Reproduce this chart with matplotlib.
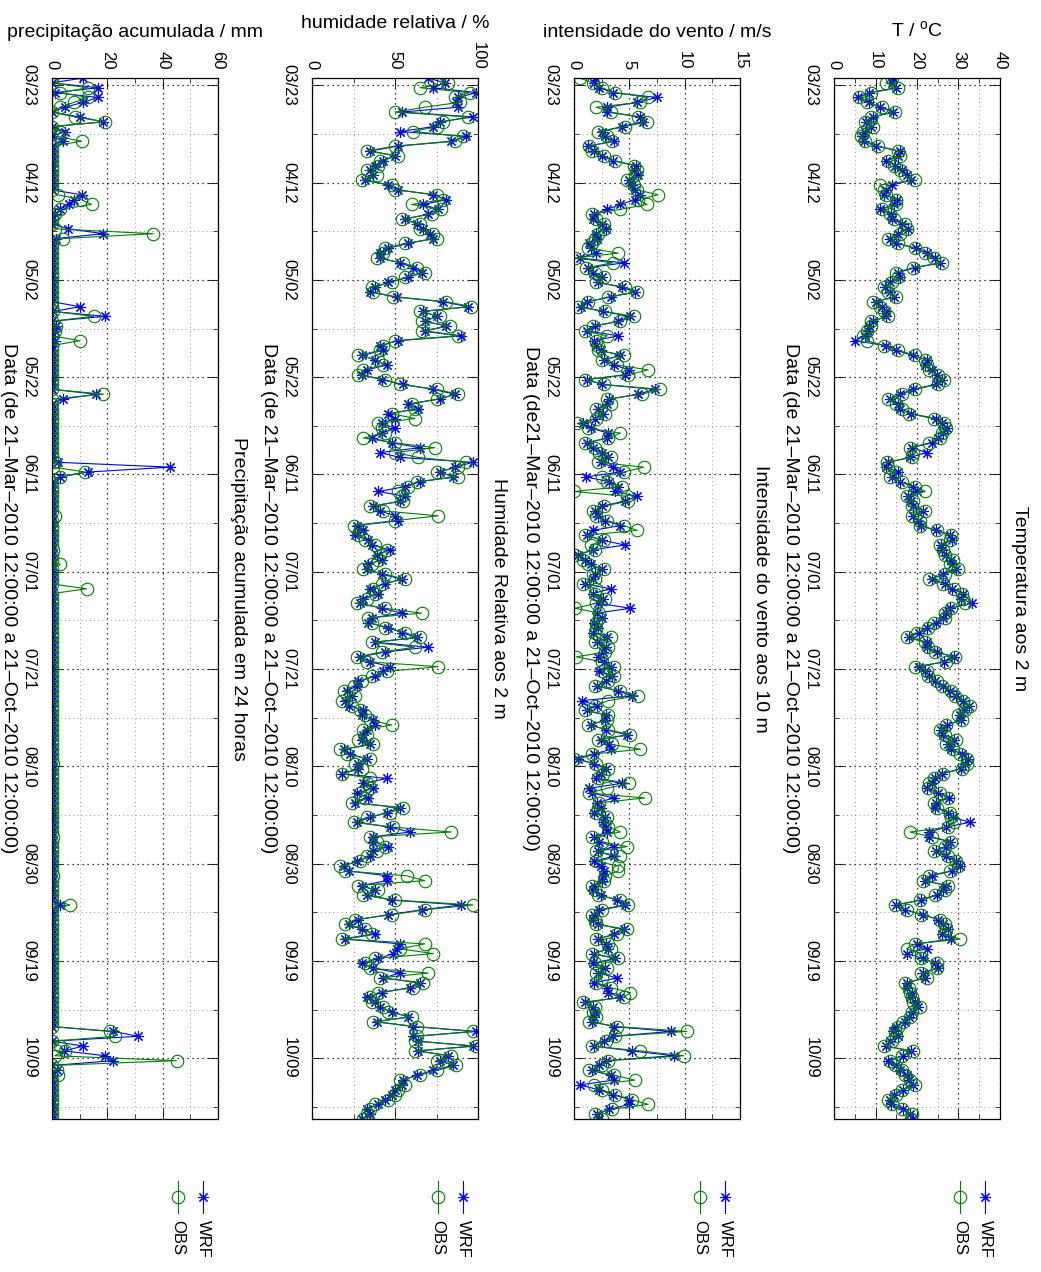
import numpy as np
import pandas as pd
import matplotlib
matplotlib.use('Agg')
import matplotlib.pyplot as plt
from matplotlib.lines import Line2D

plt.rcParams['font.family'] = ['Liberation Sans', 'DejaVu Sans']

# ---------------- data ----------------
start_date = '2010-03-21 12:00'
n_days = 215
tick_start = '2010-03-23'
tick_labels = ['03/23', '04/12', '05/02', '05/22', '06/11', '07/01',
               '07/21', '08/10', '08/30', '09/19', '10/09']
series_names = ['WRF', 'OBS']

temp_obs = [13.9, 12.5, 15.5, 9.0, 6.0, 8.0, 11.5, 14.7, 9.0, 7.5,
            9.5, 7.0, 6.5, 7.5, 10.5, 15.5, 16.0, 13.0, 14.5, 16.0,
            17.0, 19.5, 11.0, 12.0, 12.5, 15.0, 15.0, 11.5, 13.5, 14.5,
            17.0, 17.5, 16.0, 13.0, 15.5, 19.5, 22.0, 24.0, 26.0, 19.0,
            15.0, 15.5, 14.0, 12.0, 13.0, 15.0, 9.5, 11.0, 12.0, 13.0,
            9.0, 9.0, 8.0, 7.0, 8.0, 12.0, 15.5, 19.5, 22.0, 22.5,
            23.0, 25.0, 26.5, 25.0, 19.5, 16.5, 13.0, 15.0, 16.5, 18.0,
            24.0, 26.5, 27.0, 26.0, 25.5, 23.0, 18.3, 19.0, 18.7, 12.7,
            13.0, 15.0, 13.5, 16.3, 19.5, 22.0, 17.5, 19.0, 18.7, 22.0,
            18.7, 20.7, 20.7, 24.7, 28.3, 28.0, 25.5, 26.3, 26.7, 28.7,
            28.0, 30.0, 26.7, 23.0, 26.3, 29.0, 30.8, 31.0, 31.6, 28.3,
            26.7, 26.7, 24.0, 22.7, 20.0, 17.5, 22.0, 22.7, 24.3, 29.2,
            27.0, 19.5, 22.3, 22.7, 24.7, 26.0, 28.3, 29.2, 31.2, 32.8,
            31.6, 30.0, 30.8, 27.0, 25.5, 26.7, 29.5, 27.0, 28.7, 30.4,
            32.0, 32.0, 30.8, 26.3, 24.0, 23.0, 22.7, 25.5, 27.5, 24.0,
            24.7, 28.0, 28.3, 29.0, 27.5, 18.3, 23.5, 28.3, 26.7, 24.0,
            27.5, 29.5, 30.0, 28.0, 23.0, 21.5, 27.5, 26.7, 24.3, 20.7,
            14.7, 17.5, 21.0, 25.5, 26.7, 27.0, 26.5, 30.4, 19.5, 17.5,
            21.0, 21.0, 24.7, 24.7, 21.0, 22.3, 17.0, 18.0, 18.3, 18.7,
            19.0, 20.7, 18.7, 18.3, 16.7, 15.5, 14.7, 15.0, 14.0, 12.0,
            19.0, 16.3, 13.5, 14.7, 16.3, 17.0, 18.3, 19.5, 16.3, 15.0,
            13.0, 14.0, 16.3, 18.7, 18.5]
temp_wrf = [14.2, 14.0, 15.0, 8.5, 5.8, 8.5, 11.0, 14.3, 9.5, 7.8,
            9.0, 7.5, 6.8, 7.2, 10.2, 15.8, 15.5, 12.5, 14.8, 16.3,
            17.5, 18.5, 14.0, 12.5, 12.0, 15.3, 14.5, 11.0, 13.8, 14.0,
            16.5, 17.8, 15.5, 13.5, 15.0, 19.8, 22.5, 24.3, 25.5, 19.5,
            15.5, 15.8, 13.5, 12.3, 13.5, 14.5, 10.0, 11.5, 12.5, 12.5,
            9.5, 8.5, 8.3, 7.5, 5.0, 12.5, 15.0, 19.0, 22.5, 22.0,
            23.5, 24.7, 26.0, 24.5, 19.0, 16.0, 13.5, 15.5, 16.0, 18.5,
            24.5, 26.0, 27.3, 26.3, 25.0, 23.5, 18.8, 22.3, 18.3, 13.0,
            12.5, 15.5, 14.0, 16.0, 19.0, 20.0, 17.8, 18.5, 19.0, 21.5,
            19.0, 20.3, 21.0, 24.5, 28.0, 28.5, 25.8, 26.0, 27.0, 28.3,
            28.5, 29.5, 26.3, 23.5, 26.7, 28.5, 31.0, 30.5, 33.2, 28.0,
            27.0, 26.3, 24.5, 22.3, 20.5, 18.0, 22.5, 22.3, 24.7, 28.8,
            26.5, 20.5, 22.0, 23.0, 24.3, 26.3, 28.0, 29.5, 31.0, 32.5,
            31.3, 30.3, 30.5, 27.3, 25.8, 26.3, 29.0, 27.5, 28.3, 30.8,
            32.3, 31.6, 30.5, 26.0, 24.3, 23.5, 22.3, 25.0, 27.8, 24.5,
            24.3, 27.5, 28.7, 32.8, 27.0, 23.0, 23.0, 28.0, 27.0, 24.5,
            27.0, 29.3, 30.3, 28.5, 23.5, 22.0, 27.0, 26.3, 24.7, 21.0,
            15.0, 17.0, 21.5, 25.0, 26.3, 27.5, 26.0, 28.3, 20.0, 22.3,
            17.5, 21.5, 24.3, 25.0, 21.5, 22.0, 17.5, 17.7, 18.7, 18.3,
            19.5, 20.3, 19.0, 18.0, 17.0, 15.0, 14.3, 15.5, 13.5, 12.5,
            18.5, 16.7, 13.0, 15.0, 16.0, 17.5, 18.0, 19.0, 16.7, 14.5,
            13.5, 13.7, 16.7, 18.3, 19.0]

wind_obs = [0.5, 1.7, 2.5, 3.7, 6.7, 6.0, 2.0, 3.3, 5.8, 6.6,
            4.6, 2.2, 3.0, 3.4, 1.4, 1.6, 2.7, 3.7, 5.4, 5.7,
            5.5, 4.8, 5.4, 5.7, 7.6, 5.8, 6.6, 4.2, 1.6, 2.0,
            2.7, 2.7, 2.2, 1.9, 1.6, 1.3, 4.0, 0.1, 3.5, 1.1,
            1.9, 2.7, 2.0, 4.6, 5.7, 3.1, 1.3, 0.4, 2.8, 5.4,
            4.2, 1.7, 1.0, 3.0, 2.0, 2.2, 2.2, 4.5, 2.5, 3.9,
            6.7, 4.9, 1.0, 2.7, 7.8, 6.1, 3.0, 3.3, 2.0, 2.8,
            2.0, 0.3, 1.3, 4.2, 3.1, 1.0, 1.9, 2.3, 3.3, 2.2,
            6.3, 4.5, 2.5, 3.0, 4.3, 0.0, 4.8, 4.9, 2.7, 1.7,
            2.0, 3.0, 4.5, 5.7, 1.0, 2.7, 1.5, 1.9, 0.1, 0.8,
            1.3, 2.7, 1.7, 1.9, 0.8, 2.0, 1.9, 2.8, 2.0, 0.1,
            2.3, 2.3, 2.0, 2.0, 1.9, 3.3, 1.9, 3.1, 2.8, 0.2,
            2.5, 3.6, 2.5, 3.6, 3.1, 1.9, 4.2, 5.8, 3.1, 1.9,
            1.0, 3.1, 3.0, 1.3, 3.1, 5.1, 2.2, 3.4, 6.0, 1.6,
            0.0, 2.0, 3.1, 2.6, 2.2, 5.0, 3.0, 1.4, 6.4, 2.3,
            2.2, 2.0, 3.0, 2.8, 3.1, 4.2, 1.6, 2.5, 4.8, 2.0,
            4.2, 2.0, 4.0, 4.0, 2.8, 2.7, 1.6, 1.9, 2.2, 4.2,
            4.9, 2.5, 1.6, 1.9, 2.0, 4.8, 3.9, 2.0, 3.1, 3.3,
            1.6, 4.0, 1.9, 3.0, 2.0, 2.5, 2.0, 3.3, 5.1, 4.5,
            0.8, 1.9, 1.7, 2.0, 1.4, 3.9, 10.2, 3.7, 2.9, 1.6,
            6.0, 9.9, 3.1, 2.5, 1.4, 3.6, 5.5, 1.8, 2.5, 3.7,
            5.2, 6.7, 3.4, 1.9, 2.5]
wind_wrf = [1.9, 1.8, 2.3, 3.5, 7.5, 5.7, 3.0, 3.0, 6.0, 6.2,
            4.3, 2.5, 2.8, 3.6, 1.3, 1.8, 2.5, 3.5, 5.6, 5.4,
            5.8, 5.0, 5.2, 5.5, 6.0, 5.5, 4.2, 3.0, 1.8, 1.7,
            2.5, 2.9, 2.0, 2.1, 1.4, 1.5, 2.0, 0.5, 4.5, 1.3,
            1.7, 2.5, 2.2, 4.3, 5.5, 3.3, 1.2, 0.6, 2.6, 5.1,
            4.0, 1.9, 1.2, 4.0, 1.8, 2.0, 2.4, 4.2, 2.7, 3.6,
            5.0, 4.6, 1.2, 2.5, 7.3, 5.8, 3.2, 3.0, 2.2, 2.6,
            1.9, 0.8, 1.5, 3.1, 3.0, 1.2, 1.7, 2.5, 3.1, 2.4,
            3.5, 4.2, 1.1, 3.2, 4.0, 3.7, 5.7, 4.6, 2.5, 1.9,
            2.2, 2.8, 4.2, 1.7, 1.2, 2.5, 4.6, 1.7, 0.4, 1.0,
            1.5, 2.5, 1.9, 1.7, 1.0, 3.3, 1.7, 2.6, 2.2, 5.1,
            2.1, 2.5, 1.8, 2.2, 1.7, 3.0, 2.1, 2.9, 2.6, 2.2,
            2.7, 3.3, 2.3, 3.4, 2.9, 2.1, 4.0, 5.2, 0.7, 2.1,
            1.2, 2.9, 2.8, 1.5, 2.9, 4.8, 2.4, 3.2, 3.3, 1.8,
            0.4, 1.8, 2.9, 2.4, 2.0, 4.3, 1.4, 1.6, 3.6, 2.1,
            2.4, 1.8, 2.8, 2.6, 2.9, 3.0, 1.8, 2.3, 3.6, 2.2,
            3.6, 1.8, 2.4, 2.7, 2.6, 2.5, 1.8, 1.7, 2.4, 3.9,
            4.6, 2.3, 1.8, 1.7, 2.2, 4.5, 3.6, 2.2, 2.9, 3.1,
            1.8, 3.7, 1.7, 2.8, 2.2, 3.9, 1.8, 3.0, 3.1, 4.2,
            1.0, 1.7, 1.9, 1.8, 1.6, 3.6, 8.8, 3.5, 2.7, 1.8,
            5.2, 9.0, 2.9, 2.3, 1.6, 3.3, 3.6, 0.5, 2.3, 3.5,
            5.0, 5.0, 3.2, 2.1, 2.3]

hum_obs = [76, 82, 65, 95, 86, 89, 68, 50, 94, 79,
           75, 61, 91, 86, 50, 33, 52, 41, 40, 33,
           39, 30, 48, 50, 75, 79, 60, 78, 72, 54,
           65, 65, 73, 75, 56, 44, 43, 39, 55, 63,
           68, 56, 48, 36, 37, 49, 81, 96, 65, 77,
           66, 83, 66, 88, 50, 43, 41, 28, 40, 43,
           31, 28, 44, 53, 75, 88, 75, 60, 62, 48,
           62, 40, 42, 44, 31, 50, 74, 50, 64, 93,
           88, 75, 88, 63, 58, 52, 54, 55, 35, 43,
           76, 50, 25, 29, 28, 32, 38, 45, 41, 40,
           36, 31, 44, 56, 42, 37, 38, 33, 27, 44,
           66, 34, 36, 44, 56, 65, 36, 62, 42, 27,
           33, 76, 45, 36, 30, 25, 19, 26, 18, 24,
           29, 32, 35, 48, 31, 33, 28, 37, 17, 21,
           35, 26, 30, 18, 35, 33, 35, 29, 32, 24,
           55, 47, 33, 25, 49, 84, 35, 39, 44, 39,
           33, 29, 17, 20, 57, 68, 28, 40, 31, 50,
           97, 68, 48, 26, 20, 32, 36, 18, 68, 53,
           73, 38, 32, 35, 70, 41, 67, 61, 40, 35,
           36, 43, 46, 60, 37, 63, 97, 63, 62, 99,
           62, 84, 75, 87, 75, 65, 53, 56, 52, 50,
           46, 38, 35, 33, 31]
hum_wrf = [70, 80, 73, 99, 88, 87, 88, 54, 97, 77,
           73, 53, 93, 84, 52, 35, 50, 43, 38, 35,
           37, 32, 46, 52, 73, 81, 67, 76, 70, 56,
           63, 67, 71, 73, 58, 46, 41, 41, 53, 61,
           66, 58, 46, 38, 35, 51, 79, 94, 67, 75,
           68, 81, 68, 90, 52, 41, 43, 30, 38, 45,
           33, 30, 42, 55, 73, 86, 77, 58, 64, 46,
           50, 42, 50, 42, 36, 48, 65, 41, 53, 97,
           86, 77, 85, 65, 56, 40, 56, 53, 37, 41,
           50, 52, 27, 31, 26, 34, 36, 47, 39, 42,
           34, 33, 42, 54, 44, 35, 40, 31, 29, 42,
           54, 36, 34, 46, 54, 63, 38, 70, 44, 29,
           35, 47, 43, 38, 28, 27, 21, 24, 20, 22,
           31, 30, 37, 38, 33, 31, 30, 35, 19, 23,
           33, 28, 28, 18, 45, 31, 37, 27, 34, 26,
           53, 45, 35, 27, 47, 59, 37, 37, 46, 37,
           35, 27, 19, 22, 45, 45, 30, 38, 33, 48,
           90, 66, 46, 28, 22, 30, 38, 20, 53, 51,
           49, 40, 30, 37, 53, 43, 65, 59, 42, 33,
           38, 41, 48, 58, 39, 61, 99, 61, 64, 97,
           64, 82, 77, 85, 73, 63, 55, 54, 50, 48,
           44, 40, 33, 35, 30]

prec_obs = [0, 0, 13, 3, 13, 8, 3, 0, 8.3, 19,
            0, 3, 2, 10.7, 0, 0, 0, 0, 0, 0,
            0, 0, 0, 0, 2, 10.5, 14.3, 3, 1, 0,
            0, 1, 36.6, 4, 0, 0, 0, 0, 0, 0,
            0, 0, 0, 0, 0, 0, 0, 0, 0.5, 15,
            0, 1.5, 1, 0, 10.1, 0, 0, 0, 0, 0,
            0, 0, 0, 0, 0, 18.6, 0, 0, 0, 0,
            0, 0, 0, 0, 0, 0, 0, 0, 0, 1,
            0.5, 12, 2.9, 0, 0, 0, 0, 0, 0, 0,
            1, 0, 0, 0, 0, 0, 0, 0.5, 0, 0,
            3, 0, 0, 0, 0, 12.5, 0, 0, 0, 0,
            0, 0, 0, 0, 0, 0, 0, 0, 0, 0,
            0, 0, 0, 0, 0, 0, 0, 0, 0, 0,
            0, 0, 0, 0, 0, 0, 0, 0, 0, 0,
            0, 0.5, 0, 0, 0, 0, 0, 0, 0, 0,
            0, 0, 0, 0, 0, 0, 0.5, 0, 0, 0,
            0, 0, 0, 0, 0.5, 0, 0, 0, 0, 0,
            6.5, 0, 0, 0, 0, 0, 0, 0, 0, 0,
            0, 0, 0, 0, 0, 0, 0, 0, 0, 0,
            0, 0, 0, 0, 0, 0, 21, 22.8, 0, 3,
            4.7, 1, 45, 0, 1.7, 2.3, 0, 0, 0, 0,
            0, 0, 0, 0, 0]
prec_wrf = [11.3, 0, 16.7, 1, 16.5, 11.3, 4.7, 0, 10, 18.5,
            0, 4.7, 0, 4, 0, 0, 0, 0, 0, 0,
            0, 0, 0, 0, 10.7, 8, 6, 3, 1, 0,
            0, 5.9, 18.6, 1.5, 0, 0, 0, 0, 0, 0,
            0, 0, 0, 0, 0, 0, 0, 10.1, 0.5, 19.2,
            0, 1.5, 1, 0, 1, 0, 0, 0, 0, 0,
            0, 0, 0, 0, 0, 16, 4, 0, 0, 0,
            0, 0, 0, 0, 0, 0, 0, 0, 0, 2,
            42.7, 13, 2.9, 0, 0, 0, 0, 0, 0, 0,
            0, 0, 0, 0, 0, 0, 0, 0, 0, 0,
            0, 0, 0, 0, 0, 0, 0, 0, 0, 0,
            0, 0, 0, 0, 0, 0, 0, 0, 0, 0,
            0, 0, 0, 0, 0, 0, 0, 0, 0, 0,
            0, 0, 0, 0, 0, 0, 0, 0, 0, 0,
            0, 0, 0, 0, 0, 0, 0, 0, 0, 0,
            0, 0, 0, 0, 0, 0, 0, 0, 0, 0,
            0, 0, 0, 0, 0, 0, 0, 0, 0, 0,
            2.9, 0, 0, 0, 0, 0, 0, 0, 0, 0,
            0, 0, 0, 0, 0, 0, 0, 0, 0, 0,
            0, 0, 0, 0, 0, 0, 22.2, 31.2, 0, 11.3,
            4.5, 19.2, 22.2, 0, 1.7, 0.5, 0, 0, 0, 0,
            0, 0, 0, 0, 0]

value_labels = [r'T / $^{\mathregular{o}}$C', 'intensidade do vento / m/s',
                'humidade relativa / %', 'precipitação acumulada / mm']
titles = ['Temperatura aos 2 m', 'Intensidade do vento aos 10 m',
          'Humidade Relativa aos 2 m', 'Precipitação acumulada em 24 horas']
date_labels = ['Data (de 21–Mar–2010 12:00:00 a 21–Oct–2010 12:00:00)',
               'Data (de21–Mar–2010 12:00:00 a 21–Oct–2010 12:00:00)',
               'Data (de 21–Mar–2010 12:00:00 a 21–Oct–2010 12:00:00)',
               'Data (de 21–Mar–2010 12:00:00 a 21–Oct–2010 12:00:00)']
value_max = [40, 15, 100, 60]
value_major = [10, 5, 50, 20]
value_minor = [5, 2.5, 25, 10]

# ---------------- figure ----------------
W, H = 1041, 1272
fig = plt.figure(figsize=(W / 100, H / 100), dpi=100)

dates = pd.date_range(start_date, periods=n_days, freq='D')
tick_dates = pd.date_range(tick_start, periods=len(tick_labels), freq='20D')
minor_dates = tick_dates + pd.Timedelta(days=10)
minor_dates = minor_dates[minor_dates <= dates[-1]]

BLUE = (0, 0, 1)
GREEN = (0, 0.5, 0)
ASTER = (8, 2, 0)
FS_TICK = 12
FS_LAB = 14

def px_rect(x0, x1, y0, y1):
    return [x0 / W, 1 - y1 / H, (x1 - x0) / W, (y1 - y0) / H]

panel_left = [834, 574, 312, 52]
panel_w = 166
top_px, bot_px = 78, 1119

series = [(temp_wrf, temp_obs), (wind_wrf, wind_obs),
          (hum_wrf, hum_obs), (prec_wrf, prec_obs)]

for i in range(4):
    x0 = panel_left[i]
    ax = fig.add_axes(px_rect(x0, x0 + panel_w, top_px, bot_px))
    wrf, obs = series[i]
    ax.plot(wrf, dates, color=BLUE, lw=0.8, marker=ASTER, ms=8, mew=0.8)
    ax.plot(obs, dates, color=GREEN, lw=0.8, marker='o', ms=9,
            mfc='none', mew=0.8)
    ax.set_xlim(0, value_max[i])
    ax.set_ylim(dates[-1], dates[0])

    ax.set_xticks(np.arange(0, value_max[i] + 0.01, value_major[i]))
    ax.set_xticks(np.arange(value_minor[i], value_max[i], value_major[i]),
                  minor=True)
    ax.set_yticks(tick_dates)
    ax.set_yticklabels(tick_labels, rotation=-90, va='center',
                       fontsize=FS_TICK)
    ax.set_yticks(minor_dates, minor=True)

    ax.xaxis.tick_top()
    ax.xaxis.set_label_position('top')
    ax.tick_params(axis='x', which='both', top=True, bottom=True,
                   direction='in', labelsize=FS_TICK, labelrotation=-90,
                   pad=6)
    ax.tick_params(axis='y', which='both', left=True, right=True,
                   direction='in', pad=11)
    ax.tick_params(which='major', length=7, width=0.6)
    ax.tick_params(which='minor', length=3.5, width=0.5)
    for lab in ax.get_xticklabels():
        lab.set_va('bottom')
        lab.set_ha('center')

    ax.grid(True, which='major', linestyle=(0, (1, 3)), color='k', lw=0.9)
    ax.grid(True, which='minor', linestyle=(0, (1, 4)), color='0.45', lw=0.6)
    ax.set_axisbelow(True)
    for sp in ax.spines.values():
        sp.set_linewidth(0.9)

    ax.set_xlabel(value_labels[i], fontsize=FS_LAB, rotation=0, labelpad=10)
    # date-axis label, left of the date tick labels
    ax.text(-44 / panel_w, 0.5, date_labels[i], transform=ax.transAxes,
            rotation=-90, ha='center', va='center', fontsize=FS_LAB)
    ax.text(1.0 + 20 / panel_w, 0.5, titles[i], transform=ax.transAxes,
            rotation=-90, ha='center', va='center', fontsize=FS_LAB)

    # legend, rotated like the rest of the figure
    cx = x0 + panel_w - 15
    for j, (name, col, mk, ms, mfc) in enumerate(
            [('WRF', BLUE, ASTER, 8, BLUE), ('OBS', GREEN, 'o', 9, 'none')]):
        lx = (cx - 25 * j) / W
        ys = [1 - 1181 / H, 1 - 1197 / H, 1 - 1213 / H]
        fig.add_artist(Line2D([lx, lx, lx], ys, transform=fig.transFigure,
                              color=col, lw=0.8, marker=mk, ms=ms, mfc=mfc,
                              mew=0.8, markevery=[1]))
        fig.text(lx, 1 - 1220 / H, name, rotation=-90, ha='center', va='top',
                 fontsize=FS_TICK)

fig.savefig('out.png', dpi=100)
